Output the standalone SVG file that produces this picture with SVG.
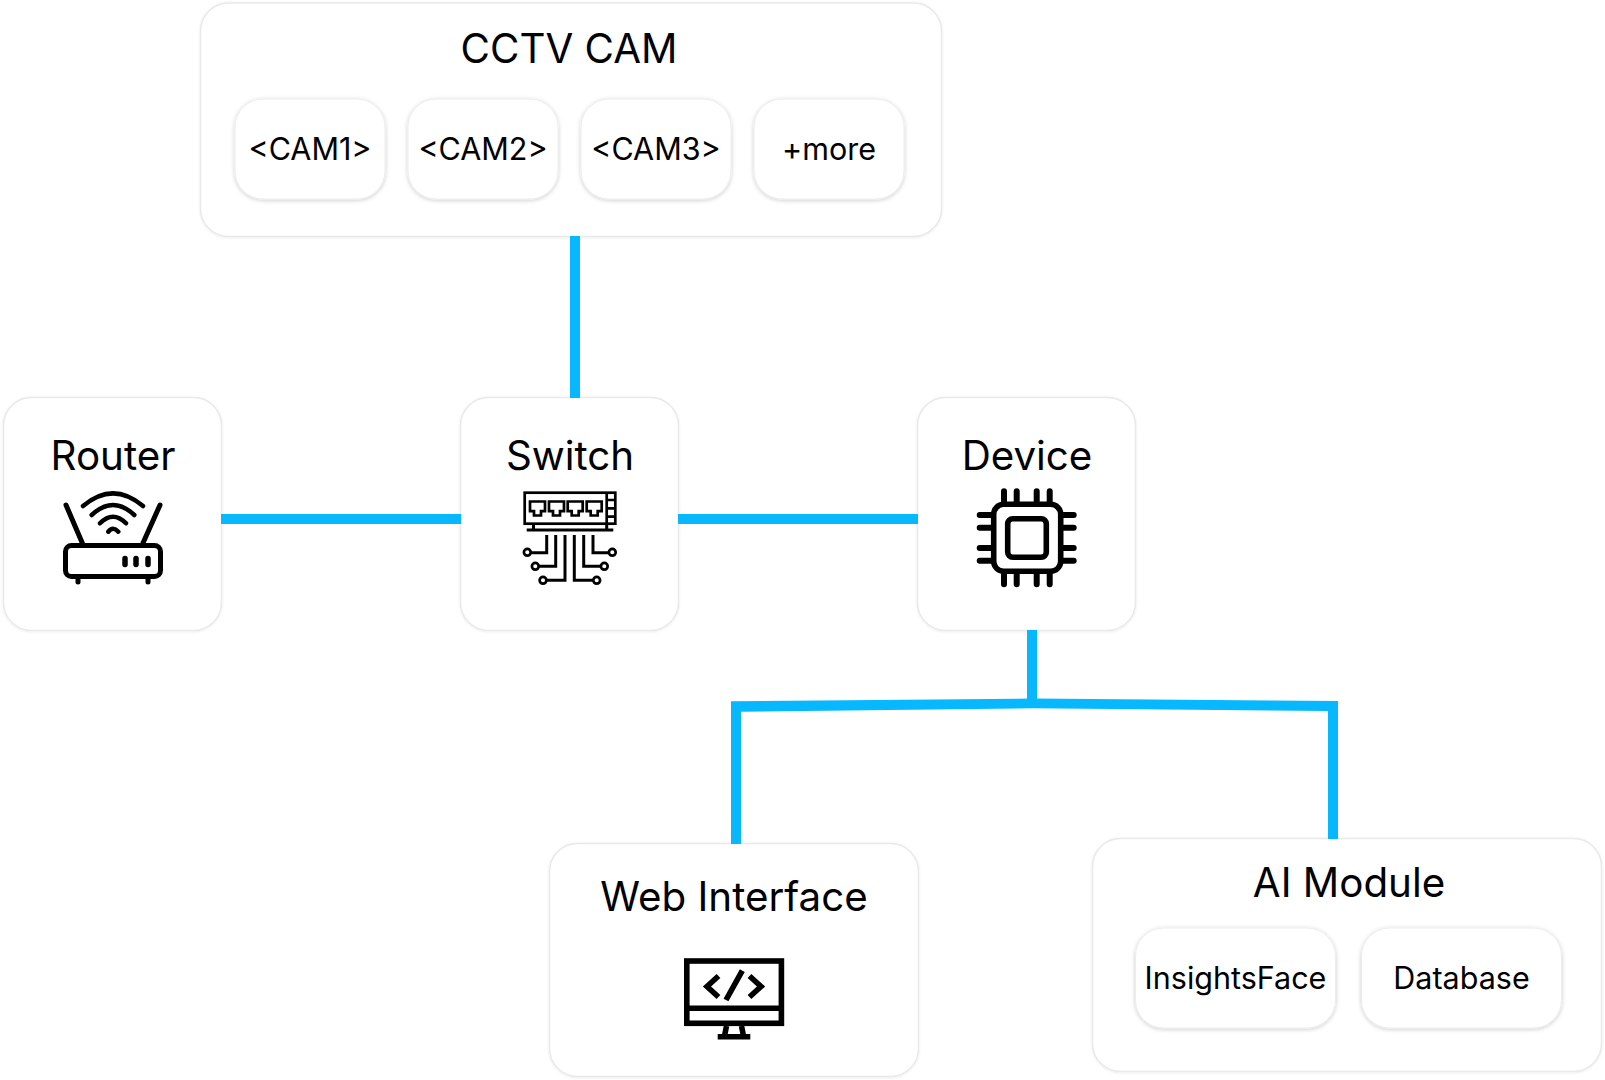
<svg xmlns="http://www.w3.org/2000/svg" width="1605" height="1080" viewBox="0 0 1605 1080">
<style>
.box{fill:#fff;stroke:#e9e9e9;stroke-width:1.5;filter:url(#s)}
.sub{fill:#fff;stroke:#ececec;stroke-width:1;filter:url(#s2)}
.t{font-family:Inter,"Noto Sans",sans-serif;font-size:40.300px;fill:#000;text-anchor:middle}
.l{font-family:Inter,"Noto Sans",sans-serif;font-size:30.500px;fill:#000;text-anchor:middle}
.c{fill:#08b8ff;stroke:none}
.i{fill:none;stroke:#000;stroke-linecap:round;stroke-linejoin:round}
.w{fill:none;stroke:#000;stroke-linecap:butt;stroke-linejoin:miter}
</style>
<defs>
<filter id="s" x="-5%" y="-5%" width="110%" height="110%"><feDropShadow dx="0" dy="0.5" stdDeviation="0.8" flood-color="#000" flood-opacity="0.1"/></filter>
<filter id="s2" x="-10%" y="-10%" width="120%" height="120%"><feDropShadow dx="0" dy="1" stdDeviation="2" flood-color="#000" flood-opacity="0.2"/></filter>
<path id="port" d="M0 0H15V9.700H11V14H4V9.700H0Z"/>
</defs>
<rect width="1605" height="1080" fill="#fff"/>
<g id="cctv">
<rect class="box" x="200.500" y="3" width="741" height="233.500" rx="28"/>
<text class="t" x="569" y="62.500">CCTV CAM</text>
<g id="cam1"><rect class="sub" x="235" y="99" width="150" height="100" rx="28"/><text class="l" x="310" y="160">&lt;CAM1&gt;</text></g>
<g id="cam2"><rect class="sub" x="408" y="99" width="150" height="100" rx="28"/><text class="l" x="483" y="160">&lt;CAM2&gt;</text></g>
<g id="cam3"><rect class="sub" x="581" y="99" width="150" height="100" rx="28"/><text class="l" x="656" y="160">&lt;CAM3&gt;</text></g>
<g id="more"><rect class="sub" x="754" y="99" width="150" height="100" rx="28"/><text class="l" x="829" y="160">+more</text></g>
</g>
<g id="router">
<rect class="box" x="3.500" y="397.500" width="218" height="233" rx="28"/>
<text class="t" x="113" y="470">Router</text>
<g class="i" stroke-width="5">
<rect x="65.500" y="545.500" width="95" height="31" rx="6"/>
<path d="M78 579V582M148 579V582M66 505L82.300 543M160 505L143 543"/>
<path stroke-width="5.500" d="M125 558.500V564.500M136 558.500V564.500M148 558.500V564.500"/>
<path stroke-width="4.500" d="M83 506Q113 480.700 143 506M91.700 515Q113 495 134.300 515M100 523.300Q113 510 126 523.300M108.300 531.700Q113 526 118.300 531.700"/>
</g>
</g>
<g id="switch">
<rect class="box" x="460.500" y="397.500" width="218" height="233" rx="28"/>
<text class="t" x="570" y="470">Switch</text>
<g class="w" stroke-width="2.700">
<rect x="524.700" y="492.700" width="90.600" height="31"/>
<path d="M606.700 492V524M607 500H616M607 508.300H616M607 516.700H616"/>
<path stroke-width="3" d="M526.700 530H613.300M533.500 525V530M606.700 525V530"/>
<use href="#port" x="530" y="501.500"/><use href="#port" x="549" y="501.500"/><use href="#port" x="567.700" y="501.500"/><use href="#port" x="586.700" y="501.500"/>
<path stroke-width="3" d="M546.700 535V552.700H531M555.700 535V566.300H539M565 535V580.300H547M574.300 535V580.300H593M583.700 535V566.300H601M593 535V552.700H609"/>
<g stroke-width="2.700"><circle cx="527.300" cy="552.300" r="3.400"/><circle cx="535.300" cy="566.300" r="3.400"/><circle cx="543" cy="580.300" r="3.400"/><circle cx="596.700" cy="580.300" r="3.400"/><circle cx="604.300" cy="566.300" r="3.400"/><circle cx="612.300" cy="552.300" r="3.400"/></g>
</g>
</g>
<g id="device">
<rect class="box" x="917.500" y="397.500" width="218" height="233" rx="28"/>
<text class="t" x="1027" y="470">Device</text>
<g class="i" stroke-width="5.600">
<rect x="993.700" y="504.300" width="67" height="67" rx="10"/>
<rect x="1007.700" y="518.700" width="38.600" height="38.600" rx="5"/>
<path stroke-width="6" d="M1004 491.300V502M1016.700 491.300V502M1036.700 491.300V502M1049.700 491.300V502M1004 574V584.300M1016.700 574V584.300M1036.700 574V584.300M1049.700 574V584.300M979.700 515H991M979.700 527.700H991M979.700 548H991M979.700 560.700H991M1063 515H1073.700M1063 527.700H1073.700M1063 548H1073.700M1063 560.700H1073.700"/>
</g>
</g>
<g id="web">
<rect class="box" x="549.500" y="843.500" width="369" height="233" rx="28"/>
<text class="t" x="734" y="911">Web Interface</text>
<g class="w" stroke-width="5.600">
<rect x="686.800" y="961" width="94.600" height="62.300"/>
<path d="M686 1008.300H782M718.500 976L707 986.500L718.500 997M749.500 976L761 986.500L749.500 997M742.300 970.700L726 1000M726.500 1026L724.500 1036M741.500 1026L743.500 1036M717.700 1036.700H750.300"/>
</g>
</g>
<g id="ai">
<rect class="box" x="1092.500" y="838.500" width="509" height="233" rx="28"/>
<text class="t" x="1349" y="897">AI Module</text>
<g id="insights"><rect class="sub" x="1135.500" y="928" width="200" height="100" rx="28"/><text class="l" x="1235.500" y="989">InsightsFace</text></g>
<g id="database"><rect class="sub" x="1361.500" y="928" width="200" height="100" rx="28"/><text class="l" x="1461.500" y="989">Database</text></g>
</g>
<g id="connectors">
<rect class="c" x="570" y="236" width="10" height="162"/>
<rect class="c" x="221" y="514" width="240" height="10"/>
<rect class="c" x="678" y="514" width="240" height="10"/>
<rect class="c" x="1027" y="630" width="10" height="75"/>
<path class="c" d="M731 844V701.300L1033 698.500L1338 701V839H1328V711L1033 708.300L741 711.700V844Z"/>
</g>
</svg>
